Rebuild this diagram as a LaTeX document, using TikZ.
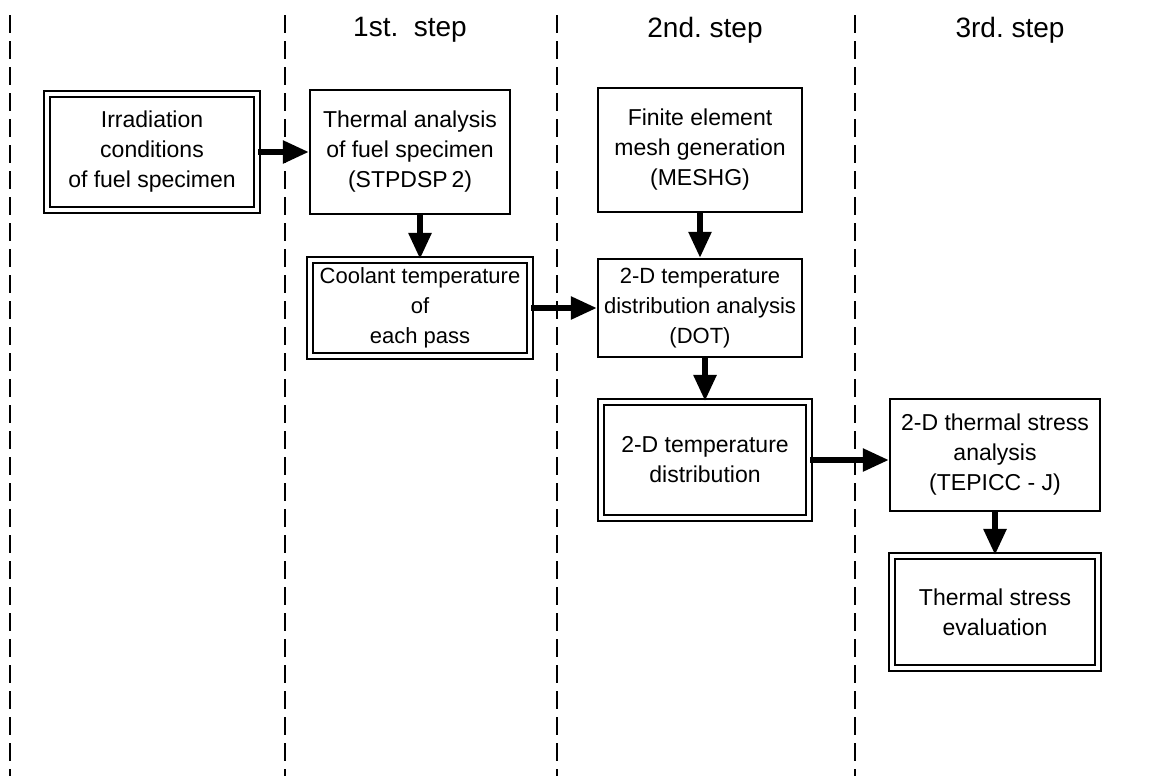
\documentclass[tikz,border=0pt]{standalone}
\usepackage{fontspec}
\setmainfont{Liberation Sans}
\usetikzlibrary{arrows.meta}
\tikzset{
  box/.style={draw,line width=1.2pt,align=center,inner sep=0pt},
  dbox/.style={draw,double,double distance=1.8pt,line width=1.05pt,align=center,inner sep=0pt},
  flow/.style={line width=2.8pt,-{Triangle[length=13pt,width=11pt]}},
  divider/.style={line width=0.8pt,dash pattern=on 9pt off 4pt},
}
\begin{document}
\begin{tikzpicture}[x=0.5pt,y=-0.5pt,font=\fontsize{11.5}{15}\selectfont]
\useasboundingbox (0,0) rectangle (1160,776);
% column dividers and headings
\foreach \xd in {10,285,557,855} \draw[divider] (\xd,15)--(\xd,776);
\node[font=\fontsize{14}{16}\selectfont] (h1) at (410,30) {1st.~~step};
\node[font=\fontsize{14}{16}\selectfont] (h2) at (705,30) {2nd.~step};
\node[font=\fontsize{14}{16}\selectfont] (h3) at (1010,30) {3rd.~step};
% boxes
\node[dbox,minimum width=105pt,minimum height=58pt] (irr) at (152,152) {Irradiation\\conditions\\of fuel specimen};
\node[box,minimum width=100pt,minimum height=62pt] (tha) at (410,152) {Thermal analysis\\of fuel specimen\\(STPDSP\,2)};
\node[dbox,minimum width=110pt,minimum height=48pt,font=\fontsize{11}{15}\selectfont] (cool) at (420,308) {Coolant temperature\\of\\each pass};
\node[box,minimum width=102pt,minimum height=62pt] (fem) at (700,150) {Finite element\\mesh generation\\(MESHG)};
\node[box,minimum width=102pt,minimum height=49pt,font=\fontsize{11}{15}\selectfont] (dot) at (700,308) {2-D temperature\\distribution analysis\\(DOT)};
\node[dbox,minimum width=104pt,minimum height=58pt] (tdist) at (705,460) {2-D temperature\\distribution};
\node[box,minimum width=105pt,minimum height=56pt] (tsa) at (995,455) {2-D thermal stress\\analysis\\(TEPICC - J)};
\node[dbox,minimum width=103pt,minimum height=56pt] (tse) at (995,612) {Thermal stress\\evaluation};
% flow arrows
\draw[flow] (irr.east) -- (tha.west |- irr.east);
\draw[flow] (tha.south -| cool.north) -- (cool.north);
\draw[flow] (cool.east) -- (dot.west |- cool.east);
\draw[flow] (fem.south) -- (dot.north);
\draw[flow] (dot.south -| tdist.north) -- (tdist.north);
\draw[flow] (tdist.east) -- (tsa.west |- tdist.east);
\draw[flow] (tsa.south) -- (tse.north);
\end{tikzpicture}
\end{document}
